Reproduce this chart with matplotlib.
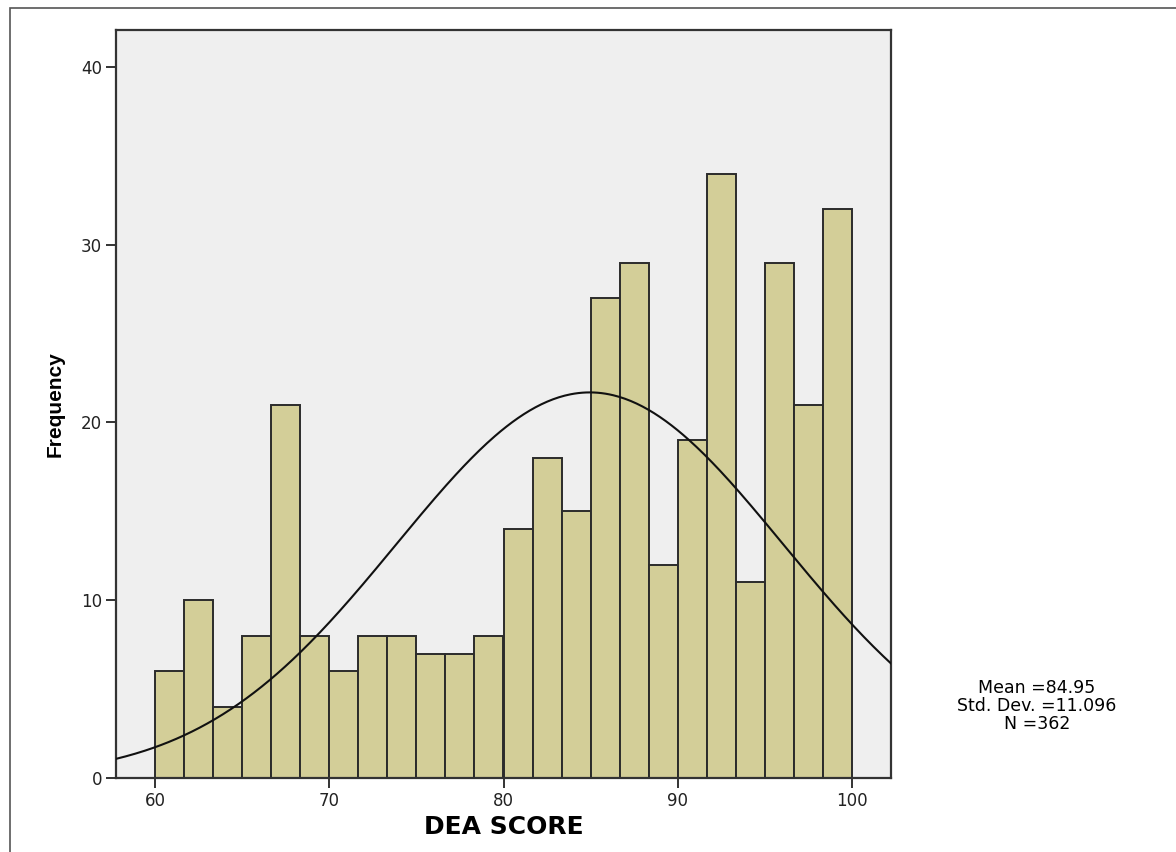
import numpy as np
import matplotlib
matplotlib.use("Agg")
import matplotlib.pyplot as plt
from matplotlib.patches import Rectangle

plt.rcParams["font.family"] = ["DejaVu Sans"]

# histogram counts, 24 bins from 60 to 100
counts = [6, 10, 4, 8, 21, 8, 6, 8, 8, 7, 7, 8,
          14, 18, 15, 27, 29, 12, 19, 34, 11, 29, 21, 32]
bin_lo = 60.0
bin_hi = 100.0
mean = 84.95
sd = 11.096
n = 362

edges = np.linspace(bin_lo, bin_hi, len(counts) + 1)
width = edges[1] - edges[0]

fig = plt.figure(figsize=(11.76, 8.52), dpi=100)
ax = fig.add_axes([116 / 1176, 1 - 778 / 852, (891 - 116) / 1176, (778 - 30) / 852])
ax.set_facecolor("#efefef")

ax.bar(edges[:-1], counts, width=width, align="edge", color="#d3ce98",
       edgecolor="#2b2b2b", linewidth=1.4, zorder=2)

# normal curve scaled to the histogram
xs = np.linspace(57.76, 102.24, 400)
ys = n * width / (sd * np.sqrt(2 * np.pi)) * np.exp(-0.5 * ((xs - mean) / sd) ** 2)
ax.plot(xs, ys, color="#111111", linewidth=1.5, zorder=3)

ax.set_xlim(57.76, 102.24)
ax.set_ylim(0, 42.08)
ax.set_xticks([60, 70, 80, 90, 100])
ax.set_yticks([0, 10, 20, 30, 40])
ax.tick_params(direction="out", length=7, width=1.4, color="#333333",
               labelsize=12, pad=3, labelcolor="#222222")
for s in ax.spines.values():
    s.set_linewidth(1.6)
    s.set_color("#333333")

ax.set_xlabel("DEA SCORE", fontsize=18, fontweight="bold", labelpad=4)
ax.set_ylabel("Frequency", fontsize=15, fontweight="bold", labelpad=12,
              family=["Liberation Sans Narrow", "Liberation Sans", "DejaVu Sans"])

fig.text(1037 / 1176, 1 - 706 / 852,
         "Mean =84.95\nStd. Dev. =11.096\nN =362",
         ha="center", va="center", fontsize=12.5, linespacing=0.98)

# outer frame around the chart
fig.patches.append(Rectangle((10 / 1176, -0.1), 1.2, 1 - 8 / 852 + 0.1,
                             transform=fig.transFigure, fill=False,
                             edgecolor="#555555", linewidth=1.2))

fig.savefig("out.png", dpi=100)
